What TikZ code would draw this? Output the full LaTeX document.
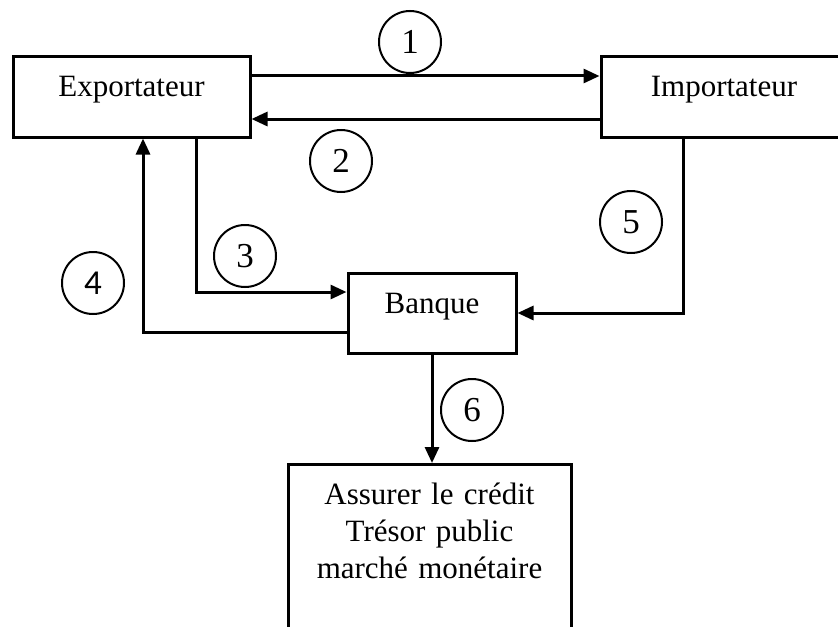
\documentclass[tikz,border=0pt]{standalone}
\usepackage{fontspec}
\setmainfont{Liberation Serif}
\newfontfamily\carlito{Carlito}
\usetikzlibrary{arrows.meta}
\begin{document}
\begin{tikzpicture}[x=0.5pt, y=-0.5pt,
    box/.style={draw, line width=1.5pt, inner sep=0pt, text height=20pt, text depth=20pt,
        font=\fontsize{15.5}{18.5}\selectfont},
    num/.style={draw, circle, line width=1pt, minimum size=31pt, inner sep=0pt,
        font=\fontsize{17.5}{18}\selectfont},
    flow/.style={line width=1.5pt, -{Triangle[length=8pt,width=7pt]}}]
    \useasboundingbox (0,0) rectangle (838,626);
    \clip (0,0) rectangle (838,626);
    % acteurs
    \node (expo) at (131.5,97) [box, minimum width=118.5pt] {Exportateur};
    \node (impo) at (724,97) [box, minimum width=123pt] {Importateur};
    \node (banque) at (432,313) [box, minimum width=84pt] {Banque};
    \node (tresor) at (429.5,463) [box, anchor=north, text width=141.5pt, align=center,
        text depth=78.5pt] {Assurer le crédit\\Trésor public\\marché monétaire};
    % flux
    \draw[flow] ([yshift=10.5pt]expo.east) -- ([yshift=10.5pt]impo.west);
    \draw[flow] ([yshift=-11pt]impo.west) -- ([yshift=-11pt]expo.east);
    \draw[flow] ([xshift=32.25pt]expo.south) |- ([yshift=10.5pt]banque.west);
    \draw[flow] ([yshift=-9.5pt]banque.west) -| ([xshift=5.75pt]expo.south);
    \draw[flow] ([xshift=-20.5pt]impo.south) |- (banque.east);
    \draw[flow] (banque.south) -- (banque.south |- tresor.north);
    % numeros
    \node (n1) at (410,42) [num] {1};
    \node (n2) at (341,161) [num] {2};
    \node (n3) at (245,256) [num] {3};
    \node (n4) at (93,283) [num, font=\carlito\fontsize{17.5}{18}\selectfont] {4};
    \node (n5) at (631,222) [num] {5};
    \node (n6) at (472,410) [num] {6};
\end{tikzpicture}
\end{document}
